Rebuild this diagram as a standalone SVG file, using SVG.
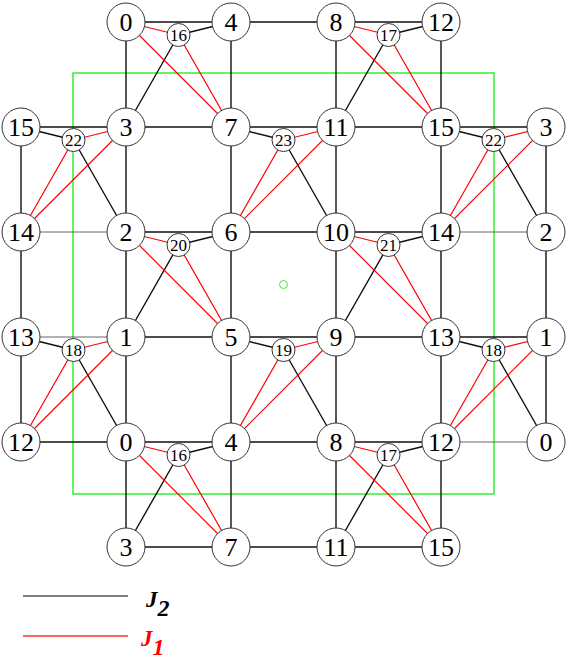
<svg xmlns="http://www.w3.org/2000/svg" width="567" height="659" viewBox="0 0 567 659">
<rect x="73" y="73" width="421" height="421" fill="none" stroke="#3e3" stroke-width="1.5"/>
<circle cx="283.5" cy="284.5" r="4" fill="none" stroke="#3e3" stroke-width="1"/>
<g id="connectors" fill="none">
<g stroke="#111" stroke-width="1.4">
<path d="M126,22H231M231,22H336M336,22H441"/>
<path d="M21,127H126M126,127H231M231,127H336M336,127H441M441,127H546"/>
<path d="M126,232H231M231,232H336M336,232H441"/>
<path d="M126,337H231M231,337H336M336,337H441M441,337H546"/>
<path d="M21,442H126M126,442H231M231,442H336M336,442H441"/>
<path d="M126,547H231M231,547H336M336,547H441"/>
<path d="M21,127V442M546,127V442"/>
<path d="M126,22V547M231,22V547M336,22V547M441,22V547"/>
<path d="M178.5,35L231,22M178.5,35L126,127"/>
<path d="M388.5,35L441,22M388.5,35L336,127"/>
<path d="M178.5,245L231,232M178.5,245L126,337"/>
<path d="M388.5,245L441,232M388.5,245L336,337"/>
<path d="M178.5,455L231,442M178.5,455L126,547"/>
<path d="M388.5,455L441,442M388.5,455L336,547"/>
<path d="M73.5,140L21,127M73.5,140L126,232"/>
<path d="M283.5,140L231,127M283.5,140L336,232"/>
<path d="M493.5,140L441,127M493.5,140L546,232"/>
<path d="M73.5,350L21,337M73.5,350L126,442"/>
<path d="M283.5,350L231,337M283.5,350L336,442"/>
<path d="M493.5,350L441,337M493.5,350L546,442"/>
</g>
<g stroke="#555" stroke-width="0.9">
<path d="M21,232H126M441,232H546M21,337H126M441,442H546"/>
</g>
<g stroke="#f00" stroke-width="1.2">
<path d="M178.5,35L126,22M178.5,35L231,127M126,22L231,127"/>
<path d="M388.5,35L336,22M388.5,35L441,127M336,22L441,127"/>
<path d="M178.5,245L126,232M178.5,245L231,337M126,232L231,337"/>
<path d="M388.5,245L336,232M388.5,245L441,337M336,232L441,337"/>
<path d="M178.5,455L126,442M178.5,455L231,547M126,442L231,547"/>
<path d="M388.5,455L336,442M388.5,455L441,547M336,442L441,547"/>
<path d="M73.5,140L126,127M73.5,140L21,232M21,232L126,127"/>
<path d="M283.5,140L336,127M283.5,140L231,232M231,232L336,127"/>
<path d="M493.5,140L546,127M493.5,140L441,232M441,232L546,127"/>
<path d="M73.5,350L126,337M73.5,350L21,442M21,442L126,337"/>
<path d="M283.5,350L336,337M283.5,350L231,442M231,442L336,337"/>
<path d="M493.5,350L546,337M493.5,350L441,442M441,442L546,337"/>
</g>
</g>
<g id="bignodes" fill="#fff" stroke="#333" stroke-width="1">
<g id="r0c1"><circle cx="126" cy="22" r="19"/><text font-family="Liberation Serif" font-size="26" text-anchor="middle" fill="#000" stroke="none" x="126" y="31">0</text></g>
<g id="r0c2"><circle cx="231" cy="22" r="19"/><text font-family="Liberation Serif" font-size="26" text-anchor="middle" fill="#000" stroke="none" x="231" y="31">4</text></g>
<g id="r0c3"><circle cx="336" cy="22" r="19"/><text font-family="Liberation Serif" font-size="26" text-anchor="middle" fill="#000" stroke="none" x="336" y="31">8</text></g>
<g id="r0c4"><circle cx="441" cy="22" r="19"/><text font-family="Liberation Serif" font-size="26" text-anchor="middle" fill="#000" stroke="none" x="441" y="31">12</text></g>
<g id="r1c0"><circle cx="21" cy="127" r="19"/><text font-family="Liberation Serif" font-size="26" text-anchor="middle" fill="#000" stroke="none" x="21" y="136">15</text></g>
<g id="r1c1"><circle cx="126" cy="127" r="19"/><text font-family="Liberation Serif" font-size="26" text-anchor="middle" fill="#000" stroke="none" x="126" y="136">3</text></g>
<g id="r1c2"><circle cx="231" cy="127" r="19"/><text font-family="Liberation Serif" font-size="26" text-anchor="middle" fill="#000" stroke="none" x="231" y="136">7</text></g>
<g id="r1c3"><circle cx="336" cy="127" r="19"/><text font-family="Liberation Serif" font-size="26" text-anchor="middle" fill="#000" stroke="none" x="336" y="136">11</text></g>
<g id="r1c4"><circle cx="441" cy="127" r="19"/><text font-family="Liberation Serif" font-size="26" text-anchor="middle" fill="#000" stroke="none" x="441" y="136">15</text></g>
<g id="r1c5"><circle cx="546" cy="127" r="19"/><text font-family="Liberation Serif" font-size="26" text-anchor="middle" fill="#000" stroke="none" x="546" y="136">3</text></g>
<g id="r2c0"><circle cx="21" cy="232" r="19"/><text font-family="Liberation Serif" font-size="26" text-anchor="middle" fill="#000" stroke="none" x="21" y="241">14</text></g>
<g id="r2c1"><circle cx="126" cy="232" r="19"/><text font-family="Liberation Serif" font-size="26" text-anchor="middle" fill="#000" stroke="none" x="126" y="241">2</text></g>
<g id="r2c2"><circle cx="231" cy="232" r="19"/><text font-family="Liberation Serif" font-size="26" text-anchor="middle" fill="#000" stroke="none" x="231" y="241">6</text></g>
<g id="r2c3"><circle cx="336" cy="232" r="19"/><text font-family="Liberation Serif" font-size="26" text-anchor="middle" fill="#000" stroke="none" x="336" y="241">10</text></g>
<g id="r2c4"><circle cx="441" cy="232" r="19"/><text font-family="Liberation Serif" font-size="26" text-anchor="middle" fill="#000" stroke="none" x="441" y="241">14</text></g>
<g id="r2c5"><circle cx="546" cy="232" r="19"/><text font-family="Liberation Serif" font-size="26" text-anchor="middle" fill="#000" stroke="none" x="546" y="241">2</text></g>
<g id="r3c0"><circle cx="21" cy="337" r="19"/><text font-family="Liberation Serif" font-size="26" text-anchor="middle" fill="#000" stroke="none" x="21" y="346">13</text></g>
<g id="r3c1"><circle cx="126" cy="337" r="19"/><text font-family="Liberation Serif" font-size="26" text-anchor="middle" fill="#000" stroke="none" x="126" y="346">1</text></g>
<g id="r3c2"><circle cx="231" cy="337" r="19"/><text font-family="Liberation Serif" font-size="26" text-anchor="middle" fill="#000" stroke="none" x="231" y="346">5</text></g>
<g id="r3c3"><circle cx="336" cy="337" r="19"/><text font-family="Liberation Serif" font-size="26" text-anchor="middle" fill="#000" stroke="none" x="336" y="346">9</text></g>
<g id="r3c4"><circle cx="441" cy="337" r="19"/><text font-family="Liberation Serif" font-size="26" text-anchor="middle" fill="#000" stroke="none" x="441" y="346">13</text></g>
<g id="r3c5"><circle cx="546" cy="337" r="19"/><text font-family="Liberation Serif" font-size="26" text-anchor="middle" fill="#000" stroke="none" x="546" y="346">1</text></g>
<g id="r4c0"><circle cx="21" cy="442" r="19"/><text font-family="Liberation Serif" font-size="26" text-anchor="middle" fill="#000" stroke="none" x="21" y="451">12</text></g>
<g id="r4c1"><circle cx="126" cy="442" r="19"/><text font-family="Liberation Serif" font-size="26" text-anchor="middle" fill="#000" stroke="none" x="126" y="451">0</text></g>
<g id="r4c2"><circle cx="231" cy="442" r="19"/><text font-family="Liberation Serif" font-size="26" text-anchor="middle" fill="#000" stroke="none" x="231" y="451">4</text></g>
<g id="r4c3"><circle cx="336" cy="442" r="19"/><text font-family="Liberation Serif" font-size="26" text-anchor="middle" fill="#000" stroke="none" x="336" y="451">8</text></g>
<g id="r4c4"><circle cx="441" cy="442" r="19"/><text font-family="Liberation Serif" font-size="26" text-anchor="middle" fill="#000" stroke="none" x="441" y="451">12</text></g>
<g id="r4c5"><circle cx="546" cy="442" r="19"/><text font-family="Liberation Serif" font-size="26" text-anchor="middle" fill="#000" stroke="none" x="546" y="451">0</text></g>
<g id="r5c1"><circle cx="126" cy="547" r="19"/><text font-family="Liberation Serif" font-size="26" text-anchor="middle" fill="#000" stroke="none" x="126" y="556">3</text></g>
<g id="r5c2"><circle cx="231" cy="547" r="19"/><text font-family="Liberation Serif" font-size="26" text-anchor="middle" fill="#000" stroke="none" x="231" y="556">7</text></g>
<g id="r5c3"><circle cx="336" cy="547" r="19"/><text font-family="Liberation Serif" font-size="26" text-anchor="middle" fill="#000" stroke="none" x="336" y="556">11</text></g>
<g id="r5c4"><circle cx="441" cy="547" r="19"/><text font-family="Liberation Serif" font-size="26" text-anchor="middle" fill="#000" stroke="none" x="441" y="556">15</text></g>
</g>
<g id="smallnodes" fill="#fff" stroke="#333" stroke-width="1">
<g id="s16a"><circle cx="178.5" cy="35" r="11.5"/><text font-family="Liberation Serif" font-size="17" text-anchor="middle" fill="#000" stroke="none" x="178.5" y="41">16</text></g>
<g id="s17a"><circle cx="388.5" cy="35" r="11.5"/><text font-family="Liberation Serif" font-size="17" text-anchor="middle" fill="#000" stroke="none" x="388.5" y="41">17</text></g>
<g id="s22a"><circle cx="73.5" cy="140" r="11.5"/><text font-family="Liberation Serif" font-size="17" text-anchor="middle" fill="#000" stroke="none" x="73.5" y="146">22</text></g>
<g id="s23"><circle cx="283.5" cy="140" r="11.5"/><text font-family="Liberation Serif" font-size="17" text-anchor="middle" fill="#000" stroke="none" x="283.5" y="146">23</text></g>
<g id="s22b"><circle cx="493.5" cy="140" r="11.5"/><text font-family="Liberation Serif" font-size="17" text-anchor="middle" fill="#000" stroke="none" x="493.5" y="146">22</text></g>
<g id="s20"><circle cx="178.5" cy="245" r="11.5"/><text font-family="Liberation Serif" font-size="17" text-anchor="middle" fill="#000" stroke="none" x="178.5" y="251">20</text></g>
<g id="s21"><circle cx="388.5" cy="245" r="11.5"/><text font-family="Liberation Serif" font-size="17" text-anchor="middle" fill="#000" stroke="none" x="388.5" y="251">21</text></g>
<g id="s18a"><circle cx="73.5" cy="350" r="11.5"/><text font-family="Liberation Serif" font-size="17" text-anchor="middle" fill="#000" stroke="none" x="73.5" y="356">18</text></g>
<g id="s19"><circle cx="283.5" cy="350" r="11.5"/><text font-family="Liberation Serif" font-size="17" text-anchor="middle" fill="#000" stroke="none" x="283.5" y="356">19</text></g>
<g id="s18b"><circle cx="493.5" cy="350" r="11.5"/><text font-family="Liberation Serif" font-size="17" text-anchor="middle" fill="#000" stroke="none" x="493.5" y="356">18</text></g>
<g id="s16b"><circle cx="178.5" cy="455" r="11.5"/><text font-family="Liberation Serif" font-size="17" text-anchor="middle" fill="#000" stroke="none" x="178.5" y="461">16</text></g>
<g id="s17b"><circle cx="388.5" cy="455" r="11.5"/><text font-family="Liberation Serif" font-size="17" text-anchor="middle" fill="#000" stroke="none" x="388.5" y="461">17</text></g>
</g>
<g id="legend">
<line x1="23" y1="596" x2="128" y2="596" stroke="#000" stroke-width="1.2"/>
<line x1="23" y1="636" x2="128" y2="636" stroke="#f33" stroke-width="1.5"/>
<text font-family="Liberation Serif" font-size="23" font-weight="bold" font-style="italic" x="146" y="607" fill="#000">J<tspan font-size="24" dy="9">2</tspan></text>
<text font-family="Liberation Serif" font-size="23" font-weight="bold" font-style="italic" x="141" y="646" fill="#f00">J<tspan font-size="24" dy="9">1</tspan></text>
</g>
</svg>
